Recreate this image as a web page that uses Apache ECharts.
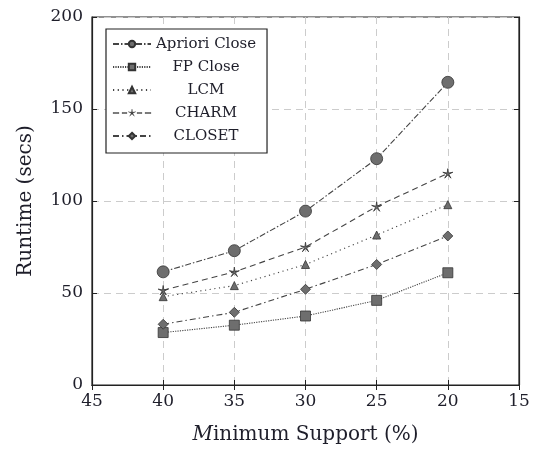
<!DOCTYPE html>
<html>
<head>
<meta charset="utf-8">
<script src="https://cdn.jsdelivr.net/npm/echarts@6/dist/echarts.min.js"></script>
<style>html,body{margin:0;padding:0;background:#fff}#c{width:534px;height:450px}</style>
</head>
<body>
<div id="c"></div>
<script>
const supports = [40, 35, 30, 25, 20];
const seriesNames = ['Apriori Close', 'FP Close', 'LCM', 'CHARM', 'CLOSET'];
const aprioriClose = [61.5, 73, 94.5, 123, 164.5];
const fpClose = [28.5, 32.5, 37.5, 46, 61];
const lcm = [48, 54, 65.5, 81.5, 98];
const charm = [51.5, 61.5, 75, 97, 115];
const closet = [33, 39.5, 52, 65.5, 81];
const xTicks = [45, 40, 35, 30, 25, 20, 15];
const yTicks = [0, 50, 100, 150, 200];

const FONT = 'DejaVu Serif';
const TXT = '#1e1e2a';
const starPath = 'path://M0,-4L0.48,-0.64L3.8,-1.24L0.76,0.24L2.36,3.24L0,0.8L-2.36,3.24L-0.76,0.24L-3.8,-1.24L-0.48,-0.64Z';
// legend icon for CHARM: dashed line with small star in the middle (38 x 8 box)
const charmLegendIcon = 'path://M0,3.5h6v1h-6zM9,3.5h5v1h-5zM24,3.5h5v1h-5zM32,3.5h6v1h-6z' +
  'M19,0L19.55,3.3L22.8,2.7L19.8,4.3L21.4,7.3L19,4.9L16.6,7.3L18.2,4.3L15.2,2.7L18.45,3.3Z' +
  'M0,0h0.01v0.01h-0.01zM38,8h-0.01v-0.01h0.01z';

function pts(vals) { return supports.map((s, i) => [s, vals[i]]); }

const styles = [
  { data: aprioriClose, symbol: 'circle', size: 12, dash: [6, 2, 1.5, 2] },
  { data: fpClose, symbol: 'rect', size: 10, dash: [1.2, 1.2] },
  { data: lcm, symbol: 'triangle', size: 8, dash: [1.2, 3.5] },
  { data: charm, symbol: starPath, size: 10, dash: [6, 4] },
  { data: closet, symbol: 'diamond', size: 10, dash: [6, 3, 1.5, 3] }
];

const series = styles.map((s, i) => ({
  name: seriesNames[i],
  type: 'line',
  data: pts(s.data),
  symbol: s.symbol,
  symbolSize: s.size,
  symbolKeepAspect: true,
  showAllSymbol: true,
  lineStyle: { color: '#444', width: 1.1, type: s.dash },
  itemStyle: { color: '#6e6e6e', borderColor: '#333', borderWidth: 0.8 },
  emphasis: { disabled: true },
  z: 3
}));

const legendData = seriesNames.map(n => n === 'CHARM'
  ? { name: n, icon: charmLegendIcon, itemStyle: { color: '#3a3a3a', borderColor: '#333', borderWidth: 0.3 } }
  : { name: n });

const chart = echarts.init(document.getElementById('c'), null, { renderer: 'canvas' });
chart.setOption({
  animation: false,
  backgroundColor: '#fff',
  grid: { left: 92, right: 15, top: 17, bottom: 64, show: true, borderColor: '#222', borderWidth: 1.2, backgroundColor: 'transparent' },
  legend: {
    orient: 'vertical',
    left: 106, top: 29,
    padding: [6, 11, 8, 6],
    itemGap: 5,
    itemWidth: 38,
    itemHeight: 8,
    backgroundColor: '#fff',
    borderColor: '#222',
    borderWidth: 1.2,
    data: legendData,
    formatter: n => '{c|' + n + '}',
    textStyle: {
      fontFamily: FONT, fontSize: 15, color: TXT, lineHeight: 18,
      rich: { c: { width: 100, align: 'center', fontFamily: FONT, fontSize: 15, color: TXT, lineHeight: 18 } }
    }
  },
  xAxis: [{
    type: 'value', inverse: true, min: 15, max: 45, interval: 5,
    name: '{i|M}inimum Support (%)',
    nameLocation: 'middle', nameGap: 40,
    nameTextStyle: { fontFamily: FONT, fontSize: 20, color: TXT, rich: { i: { fontStyle: 'italic', fontFamily: FONT, fontSize: 20, color: TXT } } },
    axisLine: { show: true, lineStyle: { color: '#222', width: 1.2 } },
    axisTick: { show: true, inside: true, length: 5, lineStyle: { color: '#222' } },
    axisLabel: { fontFamily: FONT, fontSize: 17, color: TXT, margin: 8, formatter: v => xTicks.includes(v) ? String(v) : '' },
    splitLine: { show: true, lineStyle: { color: '#cccccc', type: [7, 5], width: 1 } }
  }, {
    type: 'value', inverse: true, min: 15, max: 45, interval: 5, position: 'top',
    axisLine: { show: true, lineStyle: { color: '#222', width: 1.2 } },
    axisTick: { show: true, inside: true, length: 5, lineStyle: { color: '#222' } },
    axisLabel: { show: false }, splitLine: { show: false }
  }],
  yAxis: [{
    type: 'value', min: 0, max: 200, interval: 50,
    name: 'Runtime (secs)',
    nameLocation: 'middle', nameGap: 56,
    nameTextStyle: { fontFamily: FONT, fontSize: 20, color: TXT },
    axisLine: { show: true, lineStyle: { color: '#222', width: 1.2 } },
    axisTick: { show: true, inside: true, length: 5, lineStyle: { color: '#222' } },
    axisLabel: { fontFamily: FONT, fontSize: 17, color: TXT, margin: 9, formatter: v => yTicks.includes(v) ? String(v) : '' },
    splitLine: { show: true, lineStyle: { color: '#cccccc', type: [7, 5], width: 1 } }
  }, {
    type: 'value', min: 0, max: 200, interval: 50, position: 'right',
    axisLine: { show: true, lineStyle: { color: '#222', width: 1.2 } },
    axisTick: { show: true, inside: true, length: 5, lineStyle: { color: '#222' } },
    axisLabel: { show: false }, splitLine: { show: false }
  }],
  series: series
});
</script>
</body>
</html>
